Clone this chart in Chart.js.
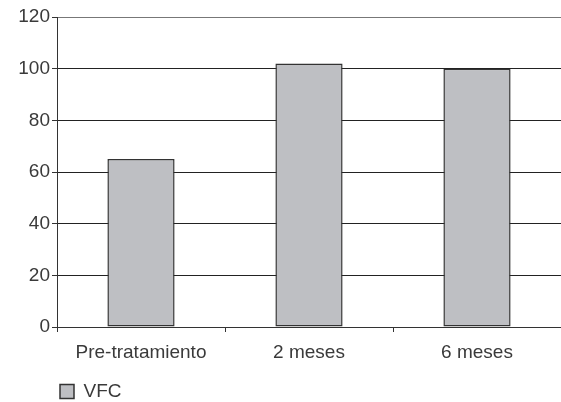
<!DOCTYPE html>
<html>
<head>
<meta charset="utf-8">
<script src="https://cdn.jsdelivr.net/npm/chart.js@4/dist/chart.umd.min.js"></script>
<style>
  html, body { margin: 0; padding: 0; background: #ffffff; }
  #wrap { width: 561px; height: 402px; }
</style>
</head>
<body>
<div id="wrap"><canvas id="c" width="561" height="402"></canvas></div>
<script>
// Categories, series and axis ticks
const categories = ['Pre-tratamiento', '2 meses', '6 meses'];
const seriesName = 'VFC';
const vfcValues = [65, 102, 100];
const yTickStep = 20;
const yMax = 120;

const textColor = '#3a3a3a';
const fontSpec = { family: '"Liberation Sans", Arial, sans-serif', size: 19 };

// Move the legend row under the value axis and closer to the bottom edge
const legendShift = {
  id: 'legendShift',
  afterLayout(chart) {
    const lg = chart.legend;
    if (lg) {
      lg.left += 50; lg.right += 50;
      lg.top += 9; lg.bottom += 9;
    }
  }
};

new Chart(document.getElementById('c'), {
  type: 'bar',
  data: {
    labels: categories,
    datasets: [{
      label: seriesName,
      data: vfcValues,
      backgroundColor: '#bebfc3',
      borderColor: '#333333',
      borderWidth: 1.5,
      borderSkipped: false,
      barPercentage: 0.4,
      categoryPercentage: 1
    }]
  },
  plugins: [legendShift],
  options: {
    responsive: false,
    animation: false,
    devicePixelRatio: 1,
    layout: { padding: { left: 0, right: 0, top: 17, bottom: 0 } },
    plugins: {
      tooltip: { enabled: false },
      legend: {
        position: 'bottom',
        align: 'start',
        labels: {
          color: textColor,
          font: fontSpec,
          boxWidth: 14,
          boxHeight: 14,
          padding: 10,
          useBorderRadius: false
        }
      }
    },
    scales: {
      x: {
        offset: true,
        afterFit: (s) => { s.height = 36; },
        grid: {
          offset: true,
          drawOnChartArea: false,
          drawTicks: true,
          tickLength: 5,
          color: '#333333',
          lineWidth: 1
        },
        border: { display: true, color: '#333333', width: 1 },
        ticks: { color: textColor, font: fontSpec, padding: 9, maxRotation: 0 }
      },
      y: {
        min: 0,
        max: yMax,
        afterFit: (s) => { s.width = 57; },
        grid: {
          color: (ctx) => (ctx.tick && ctx.tick.value === yMax ? '#777777' : '#222222'),
          tickColor: '#333333',
          lineWidth: 1,
          tickLength: 5,
          drawTicks: true
        },
        border: { display: true, color: '#333333', width: 1 },
        ticks: { stepSize: yTickStep, color: textColor, font: fontSpec, padding: 2 }
      }
    }
  }
});
</script>
</body>
</html>
